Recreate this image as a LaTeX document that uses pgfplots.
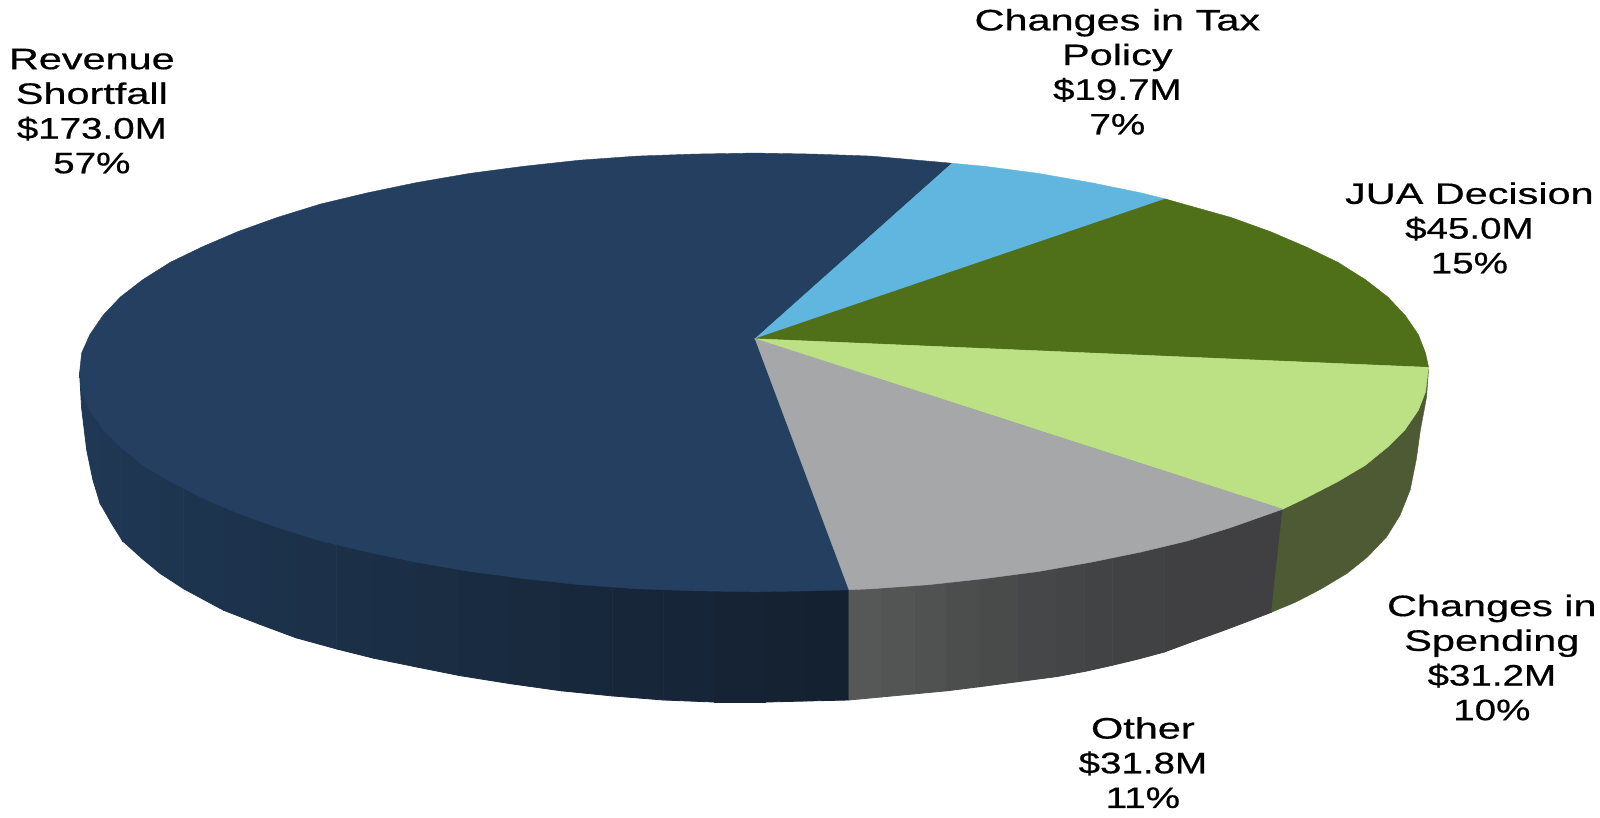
\documentclass[border=0pt]{standalone}
\usepackage{fontspec}
\setmainfont{Liberation Sans}
\newfontface\lf{Liberation Sans}[FakeBold=0.5]
\usepackage{pgfplots}
\pgfplotsset{compat=1.18}
\newcommand{\lbl}[1]{\scalebox{1.40}[1]{\lf\fontsize{14.5}{17}\selectfont\setlength{\tabcolsep}{0pt}\begin{tabular}{c}#1\end{tabular}}}
\newcommand{\nm}[1]{\scalebox{0.93}[1]{#1}}
\pgfplotsset{
 side/.style args={#1,#2,#3}{fill={rgb,255:red,#1;green,#2;blue,#3},draw={rgb,255:red,#1;green,#2;blue,#3},line width=0.4pt,no markers},
 face/.style={fill=#1,draw=#1,line width=0.2pt,no markers}
}
\definecolor{cblue}{HTML}{243F60}
\definecolor{clblue}{HTML}{60B6DE}
\definecolor{colive}{HTML}{4F6F18}
\definecolor{clgreen}{HTML}{BCE184}
\definecolor{cgray}{HTML}{A6A7A9}
\definecolor{csolive}{HTML}{4D5A33}
\begin{document}
\begin{tikzpicture}
\begin{axis}[
  scale only axis, width=784pt, height=400.5pt,
  xmin=0, xmax=1568, ymin=0, ymax=801, y dir=reverse,
  axis line style={draw=none}, ticks=none, clip=false,
]
% side of the Revenue Shortfall slice
\addplot[side={31,56,85}] coordinates {(78,370)(78,365)(80,400)(85,441)(91,470)(98,493)(98,370)} -- cycle;
\addplot[side={31,55,83}] coordinates {(98,370)(98,493)(110,514)(120,530)(120,370)} -- cycle;
\addplot[side={30,54,82}] coordinates {(120,370)(120,530)(140,548)(157,562)(157,370)} -- cycle;
\addplot[side={30,53,80}] coordinates {(157,370)(157,562)(180,577)(180,370)} -- cycle;
\addplot[side={29,52,79}] coordinates {(180,370)(180,577)(219,598)(219,370)} -- cycle;
\addplot[side={29,51,77}] coordinates {(219,370)(219,598)(255,612)(255,370)} -- cycle;
\addplot[side={28,50,75}] coordinates {(255,370)(255,612)(290,625)(290,370)} -- cycle;
\addplot[side={28,49,73}] coordinates {(290,370)(290,625)(330,636)(330,370)} -- cycle;
\addplot[side={27,47,71}] coordinates {(330,370)(330,636)(366,645)(366,370)} -- cycle;
\addplot[side={26,46,69}] coordinates {(366,370)(366,645)(410,654)(410,370)} -- cycle;
\addplot[side={26,45,67}] coordinates {(410,370)(410,654)(450,662)(450,370)} -- cycle;
\addplot[side={25,43,65}] coordinates {(450,370)(450,662)(500,670)(500,370)} -- cycle;
\addplot[side={25,42,63}] coordinates {(500,370)(500,670)(550,677)(550,370)} -- cycle;
\addplot[side={24,40,60}] coordinates {(550,370)(550,677)(600,682)(600,370)} -- cycle;
\addplot[side={23,38,57}] coordinates {(600,370)(600,682)(650,686)(650,370)} -- cycle;
\addplot[side={22,37,55}] coordinates {(650,370)(650,686)(700,688)(700,370)} -- cycle;
\addplot[side={22,35,52}] coordinates {(700,370)(700,688)(750,688)(750,370)} -- cycle;
\addplot[side={21,34,50}] coordinates {(750,370)(750,688)(790,687)(790,370)} -- cycle;
\addplot[side={20,33,48}] coordinates {(790,370)(790,687)(832,686)(832,370)} -- cycle;
% side of the Other slice
\addplot[side={86,88,87}] coordinates {(832,370)(832,686)(864,683)(864,370)} -- cycle;
\addplot[side={83,85,84}] coordinates {(864,370)(864,683)(896,680)(896,370)} -- cycle;
\addplot[side={80,82,81}] coordinates {(896,370)(896,680)(928,677)(928,370)} -- cycle;
\addplot[side={76,78,78}] coordinates {(928,370)(928,677)(960,673)(960,370)} -- cycle;
\addplot[side={73,75,75}] coordinates {(960,370)(960,673)(998,668)(998,370)} -- cycle;
\addplot[side={70,71,72}] coordinates {(998,370)(998,668)(1036,663)(1036,370)} -- cycle;
\addplot[side={68,69,70}] coordinates {(1036,370)(1036,663)(1063,658)(1063,370)} -- cycle;
\addplot[side={66,67,68}] coordinates {(1063,370)(1063,658)(1090,652)(1090,370)} -- cycle;
\addplot[side={65,66,67}] coordinates {(1090,370)(1090,652)(1115,646)(1141,639)(1141,370)} -- cycle;
\addplot[side={64,64,66}] coordinates {(1141,370)(1141,639)(1168,629)(1196,619)(1220,610)(1246,600)(1257,499)(1246,370)} -- cycle;
% side of the Changes in Spending slice
\addplot[face=csolive] coordinates {(1257,499)(1246,600)(1270,590)(1295,577)(1320,562)(1340,546)(1359,526)(1372,505)(1382,480)(1388,450)(1392,421)(1396,400)(1398,389)(1400,362)(1300,380)} -- cycle;
% top faces
\addplot[face=cblue] coordinates {(740,332)(933,160)(854,153)(797,151)(739,150)(681,151)(624,153)(568,157)(513,163)(460,170)(408,179)(360,189)(314,200)(272,213)(233,227)(198,242)(167,257)(140,274)(118,291)(101,309)(88,328)(80,346)(78,365)(80,384)(88,402)(101,421)(118,438)(140,456)(167,472)(198,488)(233,503)(272,517)(314,530)(360,541)(408,551)(460,560)(513,567)(568,573)(624,577)(681,579)(739,580)(797,579)(832,578)} -- cycle;
\addplot[face=clblue] coordinates {(740,332)(1142,195)(1118,189)(1069,179)(1018,170)(965,163)(933,160)} -- cycle;
\addplot[face=colive] coordinates {(740,332)(1400,360)(1397,346)(1390,328)(1377,309)(1360,291)(1338,274)(1311,257)(1280,242)(1245,227)(1206,213)(1142,195)} -- cycle;
\addplot[face=clgreen] coordinates {(740,332)(1257,499)(1280,488)(1311,472)(1338,456)(1360,438)(1377,421)(1390,402)(1397,384)(1400,360)} -- cycle;
\addplot[face=cgray] coordinates {(740,332)(832,578)(854,577)(910,573)(965,567)(1018,560)(1069,551)(1118,541)(1164,530)(1206,517)(1257,499)} -- cycle;
% labels
\node[inner sep=0pt,overlay] at (axis cs:90,112) {\lbl{Revenue\\Shortfall\\\nm{\$173.0M}\\\nm{57\%}}};
\node[inner sep=0pt,overlay] at (axis cs:1095,74) {\lbl{Changes in Tax\\Policy\\\nm{\$19.7M}\\\nm{7\%}}};
\node[inner sep=0pt,overlay] at (axis cs:1440,227) {\lbl{JUA Decision\\\nm{\$45.0M}\\\nm{15\%}}};
\node[inner sep=0pt,overlay] at (axis cs:1462,648) {\lbl{Changes in\\Spending\\\nm{\$31.2M}\\\nm{10\%}}};
\node[inner sep=0pt,overlay] at (axis cs:1120,751) {\lbl{Other\\\nm{\$31.8M}\\\nm{11\%}}};
\end{axis}
\end{tikzpicture}
\end{document}
